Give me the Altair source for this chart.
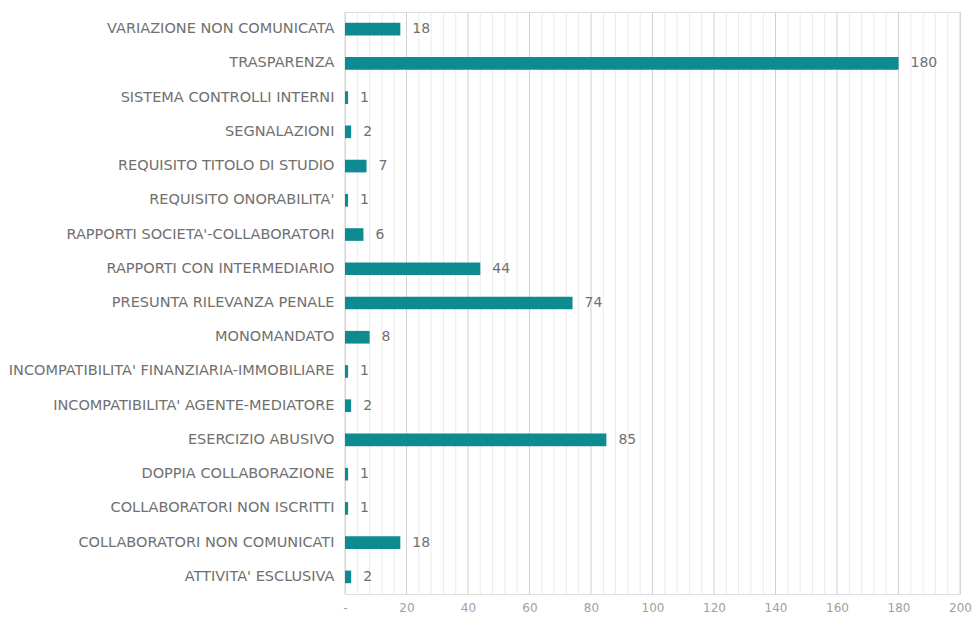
import altair as alt
import pandas as pd

categories = [
    "VARIAZIONE NON COMUNICATA",
    "TRASPARENZA",
    "SISTEMA CONTROLLI INTERNI",
    "SEGNALAZIONI",
    "REQUISITO TITOLO DI STUDIO",
    "REQUISITO ONORABILITA'",
    "RAPPORTI SOCIETA'-COLLABORATORI",
    "RAPPORTI CON INTERMEDIARIO",
    "PRESUNTA RILEVANZA PENALE",
    "MONOMANDATO",
    "INCOMPATIBILITA' FINANZIARIA-IMMOBILIARE",
    "INCOMPATIBILITA' AGENTE-MEDIATORE",
    "ESERCIZIO ABUSIVO",
    "DOPPIA COLLABORAZIONE",
    "COLLABORATORI NON ISCRITTI",
    "COLLABORATORI NON COMUNICATI",
    "ATTIVITA' ESCLUSIVA",
]
values = [18, 180, 1, 2, 7, 1, 6, 44, 74, 8, 1, 2, 85, 1, 1, 18, 2]
tick_values = [0, 20, 40, 60, 80, 100, 120, 140, 160, 180, 200]
minor_grid = [v for v in range(0, 201, 4) if v % 20 != 0]

df = pd.DataFrame({"cat": categories, "val": values})
minor_df = pd.DataFrame({"g": minor_grid})
major_df = pd.DataFrame({"g": tick_values})

FONT = "DejaVu Sans"
TEAL = "#0E8A91"

xscale = alt.Scale(domain=[0, 200], nice=False)

x_enc = alt.X(
    "val:Q",
    scale=xscale,
    axis=alt.Axis(
        values=tick_values,
        title=None,
        ticks=False,
        domain=False,
        grid=False,
        labelExpr="datum.value == 0 ? '-' : datum.label",
        labelOverlap=False,
        labelFlush=False,
        labelFont=FONT,
        labelFontSize=12,
        labelColor="#a0a0a0",
        labelPadding=8,
    ),
)
y_enc = alt.Y(
    "cat:N",
    sort=categories,
    scale=alt.Scale(paddingInner=0.63, paddingOuter=0.315),
    axis=alt.Axis(
        title=None,
        ticks=False,
        domain=False,
        labelFont=FONT,
        labelFontSize=14.5,
        labelColor="#707070",
        labelPadding=11,
        labelLimit=450,
    ),
)

minor = alt.Chart(minor_df).mark_rule(color="#ebebeb", strokeWidth=1).encode(
    x=alt.X("g:Q", scale=xscale)
)
major = alt.Chart(major_df).mark_rule(color="#d2d2d2", strokeWidth=1).encode(
    x=alt.X("g:Q", scale=xscale)
)
bars = alt.Chart(df).mark_bar(color=TEAL).encode(x=x_enc, y=y_enc)
text = alt.Chart(df).mark_text(
    align="left", baseline="middle", dx=12, font=FONT, fontSize=14, color="#707070"
).encode(x=alt.X("val:Q", scale=xscale), y=alt.Y("cat:N", sort=categories), text="val:Q")

chart = (
    alt.layer(minor, major, bars, text)
    .properties(
        width=615,
        height=582,
        autosize="none",
        padding={"left": 337, "top": 4, "right": 12, "bottom": 28},
    )
    .configure_view(strokeWidth=0, stroke="transparent")
    .configure(background="white")
)

chart.save("out.html", embed_options={"renderer": "svg", "actions": False})
